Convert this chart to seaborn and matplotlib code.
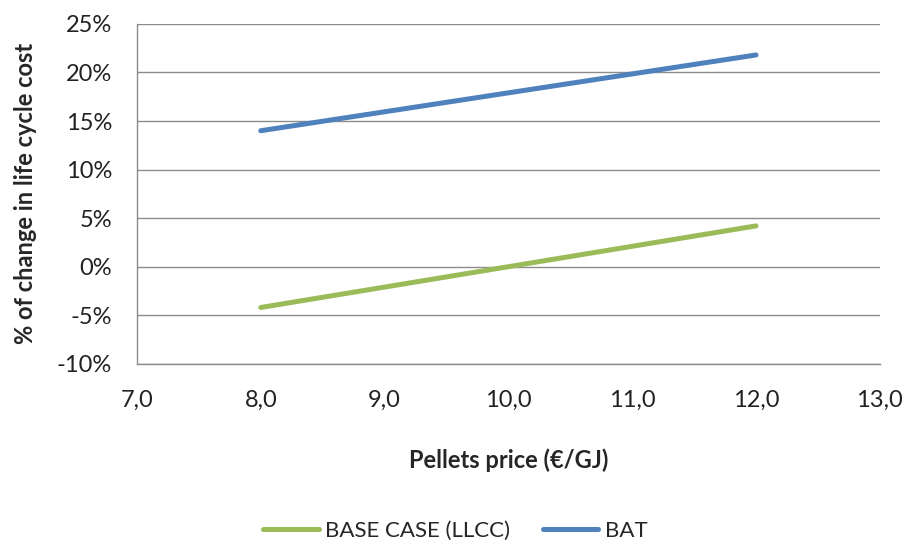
import matplotlib
matplotlib.use("Agg")
import matplotlib.pyplot as plt
import matplotlib.ticker as mticker
import seaborn as sns
import pandas as pd

# Pellets price (EUR/GJ) and % change in life cycle cost
price = [8.0, 10.0, 12.0]
base_case = [-4.2, 0.0, 4.2]
bat = [14.0, 17.9, 21.8]
series_names = ["BASE CASE (LLCC)", "BAT"]

df = pd.DataFrame({
    "price": price * 2,
    "change": base_case + bat,
    "series": [series_names[0]] * len(price) + [series_names[1]] * len(price),
})

sns.set_theme(style="white")
plt.rcParams["font.family"] = ["Lato", "DejaVu Sans"]

fig = plt.figure(figsize=(9.07, 5.43), dpi=100)
ax = fig.add_axes([0.151, 0.330, 0.819, 0.626])

colors = {series_names[0]: "#9BBB59", series_names[1]: "#4F81BD"}
lw = 3.6

sns.lineplot(
    data=df, x="price", y="change", hue="series", palette=colors,
    linewidth=lw, ax=ax, legend=False, solid_capstyle="round",
)

ax.set_xlim(7, 13)
ax.set_ylim(-10, 25)
ax.xaxis.set_major_locator(mticker.MultipleLocator(1))
ax.xaxis.set_minor_locator(mticker.MultipleLocator(0.5))
ax.yaxis.set_major_locator(mticker.MultipleLocator(5))
ax.xaxis.set_major_formatter(mticker.FuncFormatter(lambda v, p: f"{v:.1f}".replace(".", ",")))
ax.yaxis.set_major_formatter(mticker.FuncFormatter(lambda v, p: f"{v:.0f}%"))

ax.grid(axis="y", color="#8c8c8c", linewidth=1.0)
ax.grid(axis="x", visible=False)
ax.set_axisbelow(True)
for s in ["top", "right"]:
    ax.spines[s].set_visible(False)
for s in ["left", "bottom"]:
    ax.spines[s].set_color("#8c8c8c")
    ax.spines[s].set_linewidth(1.0)

ax.tick_params(axis="both", which="both", direction="out", color="#8c8c8c", width=1.0)
ax.tick_params(axis="y", which="major", length=7, labelsize=17, pad=11)
ax.tick_params(axis="x", which="major", length=7, labelsize=17, pad=12)
ax.tick_params(axis="x", which="minor", length=6)
ax.tick_params(axis="both", labelcolor="#222222")

ax.set_xlabel("Pellets price (€/GJ)", fontsize=17, fontweight="bold", labelpad=27)
ax.set_ylabel("% of change in life cycle cost", fontsize=17, fontweight="bold", labelpad=14)

handles = [plt.Line2D([], [], color=colors[n], linewidth=lw, solid_capstyle="round")
           for n in series_names]
fig.legend(handles, series_names, loc="center", bbox_to_anchor=(0.502, 0.022),
           ncol=2, frameon=False, fontsize=16, handlelength=2.5,
           handletextpad=0.3, columnspacing=1.45)

fig.savefig("out.png", dpi=100)
